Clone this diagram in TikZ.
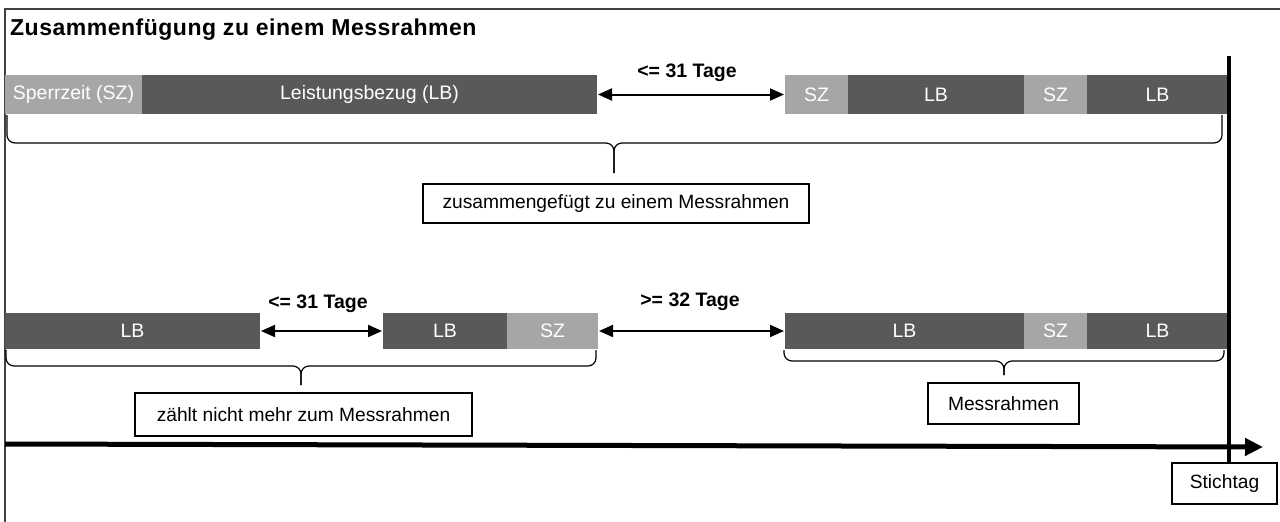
\documentclass[tikz,border=0pt]{standalone}
\usepackage{fontspec}
\setmainfont{Liberation Sans}
\usetikzlibrary{arrows.meta}
\definecolor{lbgray}{HTML}{595959}
\definecolor{szgray}{HTML}{A6A6A6}
\definecolor{framegray}{HTML}{404040}
\tikzset{
  bar/.style={inner sep=0pt, outer sep=0pt, anchor=north west, text=white,
    font=\fontsize{19.5}{23}\selectfont},
  szbar/.style={bar, fill=szgray},
  lbbar/.style={bar, fill=lbgray},
  dar/.style={{Triangle[length=14pt,width=12pt]}-{Triangle[length=14pt,width=12pt]}, line width=2pt, shorten <=1pt, shorten >=1pt},
  lbl/.style={font=\bfseries\fontsize{19.5}{23}\selectfont, inner sep=0pt},
  tbox/.style={draw=black, line width=1.2pt, fill=white,
    font=\fontsize{19.2}{22}\selectfont, inner sep=0pt},
  bracepath/.style={line width=1.2pt, rounded corners=8pt},
  axisline/.style={line width=5pt, -{Triangle[length=18pt,width=17pt]}},
  stichline/.style={line width=4pt},
  frameline/.style={line width=1.3pt, draw=framegray}
}
\begin{document}
\begin{tikzpicture}[x=1pt,y=-1pt]
\useasboundingbox (0,0) rectangle (1280,522);
% frame
\coordinate (fa) at (5,522);
\coordinate (fb) at (5,9);
\coordinate (fc) at (1280,9);
\draw[frameline] (fa) -- (fb) -- (fc);
% title
\node[anchor=base west, inner sep=0pt, font=\bfseries\fontsize{23}{27}\selectfont\addfontfeature{LetterSpace=2.2}] (title) at (10,35) {Zusammenfügung zu einem Messrahmen};
% row 1
\node[szbar, minimum width=137pt, minimum height=39pt] (sz1) at (5,75) {Sperrzeit (SZ)};
\node[lbbar, minimum width=455pt, minimum height=39pt] (lb1) at (142,75) {Leistungsbezug (LB)};
\node[szbar, minimum width=63pt, minimum height=39pt] (sz2) at (785,75) {SZ};
\node[lbbar, minimum width=176pt, minimum height=39pt] (lb2) at (848,75) {LB};
\node[szbar, minimum width=63pt, minimum height=39pt] (sz3) at (1024,75) {SZ};
\node[lbbar, minimum width=141pt, minimum height=39pt] (lb3) at (1087,75) {LB};
\draw[dar] (lb1.east) -- (sz2.west);
\node[lbl] (l1) at (687,73) {<= 31 Tage};
% brace 1
\coordinate (b1l) at (7,115);
\coordinate (b1r) at (1222,115);
\coordinate (b1m) at (614,143);
\coordinate (b1t) at (614,173);
\draw[bracepath] (b1l) |- (b1m) -- (b1t);
\draw[bracepath] (b1r) |- (b1m) -- (b1t);
\node[tbox, minimum width=386pt, minimum height=39pt] (box1) at (616,203.5) {zusammengefügt zu einem Messrahmen};
% row 2
\node[lbbar, minimum width=255pt, minimum height=36pt] (lb4) at (5,313) {LB};
\node[lbbar, minimum width=124pt, minimum height=36pt] (lb5) at (383,313) {LB};
\node[szbar, minimum width=91pt, minimum height=36pt] (sz4) at (507,313) {SZ};
\node[lbbar, minimum width=239pt, minimum height=36pt] (lb6) at (785,313) {LB};
\node[szbar, minimum width=63pt, minimum height=36pt] (sz5) at (1024,313) {SZ};
\node[lbbar, minimum width=141pt, minimum height=36pt] (lb7) at (1087,313) {LB};
\draw[dar] (lb4.east) -- (lb5.west);
\draw[dar] (sz4.east) -- (lb6.west);
\node[lbl] (l2) at (318,304) {<= 31 Tage};
\node[lbl] (l3) at (690,302) {>= 32 Tage};
% brace 2
\coordinate (b2l) at (6,350);
\coordinate (b2r) at (596,350);
\coordinate (b2m) at (301,366);
\coordinate (b2t) at (301,385);
\draw[bracepath] (b2l) |- (b2m) -- (b2t);
\draw[bracepath] (b2r) |- (b2m) -- (b2t);
\node[tbox, minimum width=337pt, minimum height=43pt] (box2) at (303.5,414.5) {zählt nicht mehr zum Messrahmen};
% brace 3
\coordinate (b3l) at (784,350);
\coordinate (b3r) at (1224,350);
\coordinate (b3m) at (1004,361);
\coordinate (b3t) at (1004,375);
\draw[bracepath] (b3l) |- (b3m) -- (b3t);
\draw[bracepath] (b3r) |- (b3m) -- (b3t);
\node[tbox, minimum width=151pt, minimum height=41pt] (box3) at (1003.5,403.5) {Messrahmen};
% time axis
\coordinate (axs) at (5,444);
\coordinate (axe) at (1263,447);
\draw[axisline] (axs) -- (axe);
% Stichtag
\node[tbox, minimum width=105pt, minimum height=41pt] (st) at (1224.5,483.5) {Stichtag};
\coordinate (vt) at (1229,56);
\draw[stichline] (vt) -- (vt |- st.north);
\end{tikzpicture}
\end{document}
